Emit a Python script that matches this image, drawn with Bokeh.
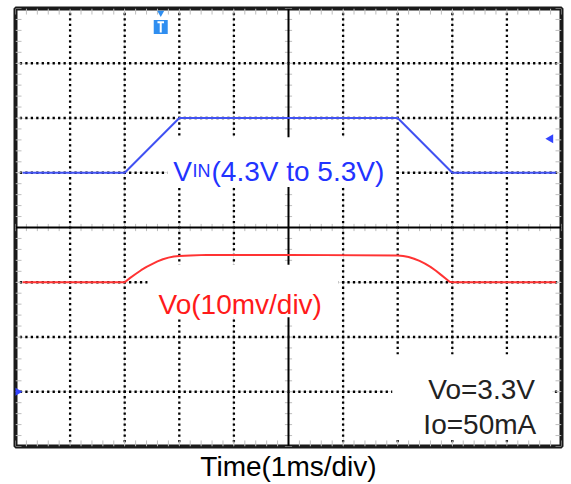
import numpy as np
from bokeh.plotting import figure
from bokeh.models import Range1d, Label, LinearAxis, FixedTicker
from bokeh.embed import file_html
from bokeh.resources import INLINE

# ---- data (time in ms, 1 ms/div) ----
vin_t = [0.13, 2.0, 3.0, 7.0, 8.0, 9.9]
vin_v = [4.3, 4.3, 5.3, 5.3, 4.3, 4.3]          # volts, 1 V/div

vo_t = [0.13, 1.0, 2.0, 2.1, 2.2, 2.3, 2.4, 2.5, 2.6, 2.7, 2.8, 2.9, 3.0, 3.2, 3.5,
        5.0, 7.0, 7.1, 7.2, 7.3, 7.4, 7.5, 7.6, 7.7, 7.8, 7.9, 7.95, 8.0, 9.0, 9.9]
vo_mv = [0.0, 0.0, 0.0, 0.8, 1.5, 2.2, 2.8, 3.3, 3.8, 4.2, 4.5, 4.7, 4.8, 4.9, 5.0,
         5.0, 4.9, 4.8, 4.6, 4.3, 3.9, 3.4, 2.8, 2.1, 1.3, 0.5, 0.1, 0.0, 0.0, 0.0]  # mV deviation, 10 mV/div

vin_offset_div = 1.0   # 4.3 V sits one division above centre
vo_offset_div = -1.0   # 3.3 V sits one division below centre

vin_div = [(v - 4.3) / 1.0 + vin_offset_div for v in vin_v]
vo_div = [m / 10.0 + vo_offset_div for m in vo_mv]

label_vin = ["V", "IN", "(4.3V to 5.3V)"]
label_vo = "Vo(10mv/div)"
label_cond = ["Vo=3.3V", "Io=50mA"]
label_time = "Time(1ms/div)"

grid_x = [1, 2, 3, 4, 6, 7, 8, 9]
grid_y = [-3, -2, -1, 1, 2, 3]

FONT = "Liberation Sans"

p = figure(width=571, height=484, x_range=Range1d(0, 10), y_range=Range1d(-4, 4),
           output_backend="svg", toolbar_location=None,
           x_axis_location=None, y_axis_location=None,
           min_border_left=15, min_border_right=10, min_border_top=8, min_border_bottom=0)
p.background_fill_color = "white"
p.border_fill_color = "white"
p.outline_line_color = "#1a1a1a"
p.outline_line_width = 4

# bottom axis used only for its title
xa = LinearAxis(ticker=FixedTicker(ticks=[]), axis_label=label_time, axis_label_text_font=FONT,
                axis_label_text_font_size="28px", axis_label_text_font_style="normal",
                axis_label_text_color="black", axis_label_standoff=4,
                axis_line_color=None, major_tick_line_color=None, minor_tick_line_color=None,
                major_label_standoff=0,
                major_tick_out=0, major_tick_in=0, minor_tick_out=0, minor_tick_in=0)
p.add_layout(xa, "below")

# dotted graticule (10 dots per division)
steps_x = np.round(np.arange(0, 10.001, 0.1), 3)
steps_y = np.round(np.arange(-4, 4.001, 0.1), 3)
gx = np.concatenate([np.full(len(steps_y), g) for g in grid_x] + [steps_x for _ in grid_y])
gy = np.concatenate([steps_y for _ in grid_x] + [np.full(len(steps_x), g) for g in grid_y])
p.scatter(gx, gy, marker="square", size=2.3, fill_color="black", line_color=None)

# minor ticks along frame edges and centre lines
tx = np.arange(0, 10.001, 0.2)
ty = np.arange(-4, 4.001, 0.2)
dx = 6 / 54.6
dy = 6 / 54.4
tick_col = "#bdbdbd"
p.segment(x0=tx, y0=-4, x1=tx, y1=-4 + dy, line_color=tick_col, line_width=1)
p.segment(x0=tx, y0=4, x1=tx, y1=4 - dy, line_color=tick_col, line_width=1)
p.segment(x0=0, y0=ty, x1=dx, y1=ty, line_color=tick_col, line_width=1)
p.segment(x0=10, y0=ty, x1=10 - dx, y1=ty, line_color=tick_col, line_width=1)
p.segment(x0=tx, y0=-dy * 0.6, x1=tx, y1=dy * 0.6, line_color=tick_col, line_width=1)
p.segment(x0=5 - dx * 0.6, y0=ty, x1=5 + dx * 0.6, y1=ty, line_color=tick_col, line_width=1)

# solid centre cross
p.segment(x0=[5, 0], y0=[-4, 0], x1=[5, 10], y1=[4, 0], line_color="black", line_width=2)

# white backgrounds behind the annotations
p.quad(left=[2.78, 2.42, 6.90], right=[6.95, 5.92, 9.83],
       bottom=[0.74, -1.64, -3.88], top=[1.65, -0.68, -2.32],
       fill_color="white", line_color=None)

# traces
p.line(vin_t, vin_div, line_color="#4152f2", line_width=2)
p.line(vo_t, vo_div, line_color="#ff3333", line_width=2)

# scope markers
p.scatter([2.66], [3.66], marker="square", size=14, fill_color="#2f8ef0", line_color=None)
p.scatter([2.66], [3.92], marker="inverted_triangle", size=7, fill_color="#2f8ef0", line_color=None)
p.segment(x0=[2.60, 2.66], y0=[3.75, 3.75], x1=[2.72, 2.66], y1=[3.75, 3.56],
          line_color="white", line_width=2)
p.scatter([9.80], [1.62], marker="triangle", angle=np.pi / 2, size=9,
          fill_color="#3344ff", line_color=None)
p.scatter([0.0], [-3.0], marker="triangle", angle=-np.pi / 2, size=12,
          fill_color="#3344ff", line_color=None)

# labels
blue = "#2233ff"
red = "#ff1a1a"
p.add_layout(Label(x=2.89, y=1.03, text=label_vin[0], text_font=FONT, text_font_size="28px",
                   text_color=blue, text_baseline="alphabetic"))
p.add_layout(Label(x=3.24, y=1.03, text=label_vin[1], text_font=FONT, text_font_size="18px",
                   text_color=blue, text_baseline="alphabetic"))
p.add_layout(Label(x=3.59, y=1.03, text=label_vin[2], text_font=FONT, text_font_size="28px",
                   text_color=blue, text_baseline="alphabetic"))
p.add_layout(Label(x=2.62, y=-1.40, text=label_vo, text_font=FONT, text_font_size="28px",
                   text_color=red, text_baseline="alphabetic"))
p.add_layout(Label(x=7.56, y=-2.96, text=label_cond[0], text_font=FONT, text_font_size="28px",
                   text_color="#222222", text_baseline="alphabetic"))
p.add_layout(Label(x=7.47, y=-3.60, text=label_cond[1], text_font=FONT, text_font_size="28px",
                   text_color="#222222", text_baseline="alphabetic"))

open("out.html", "w").write(file_html(p, INLINE))
